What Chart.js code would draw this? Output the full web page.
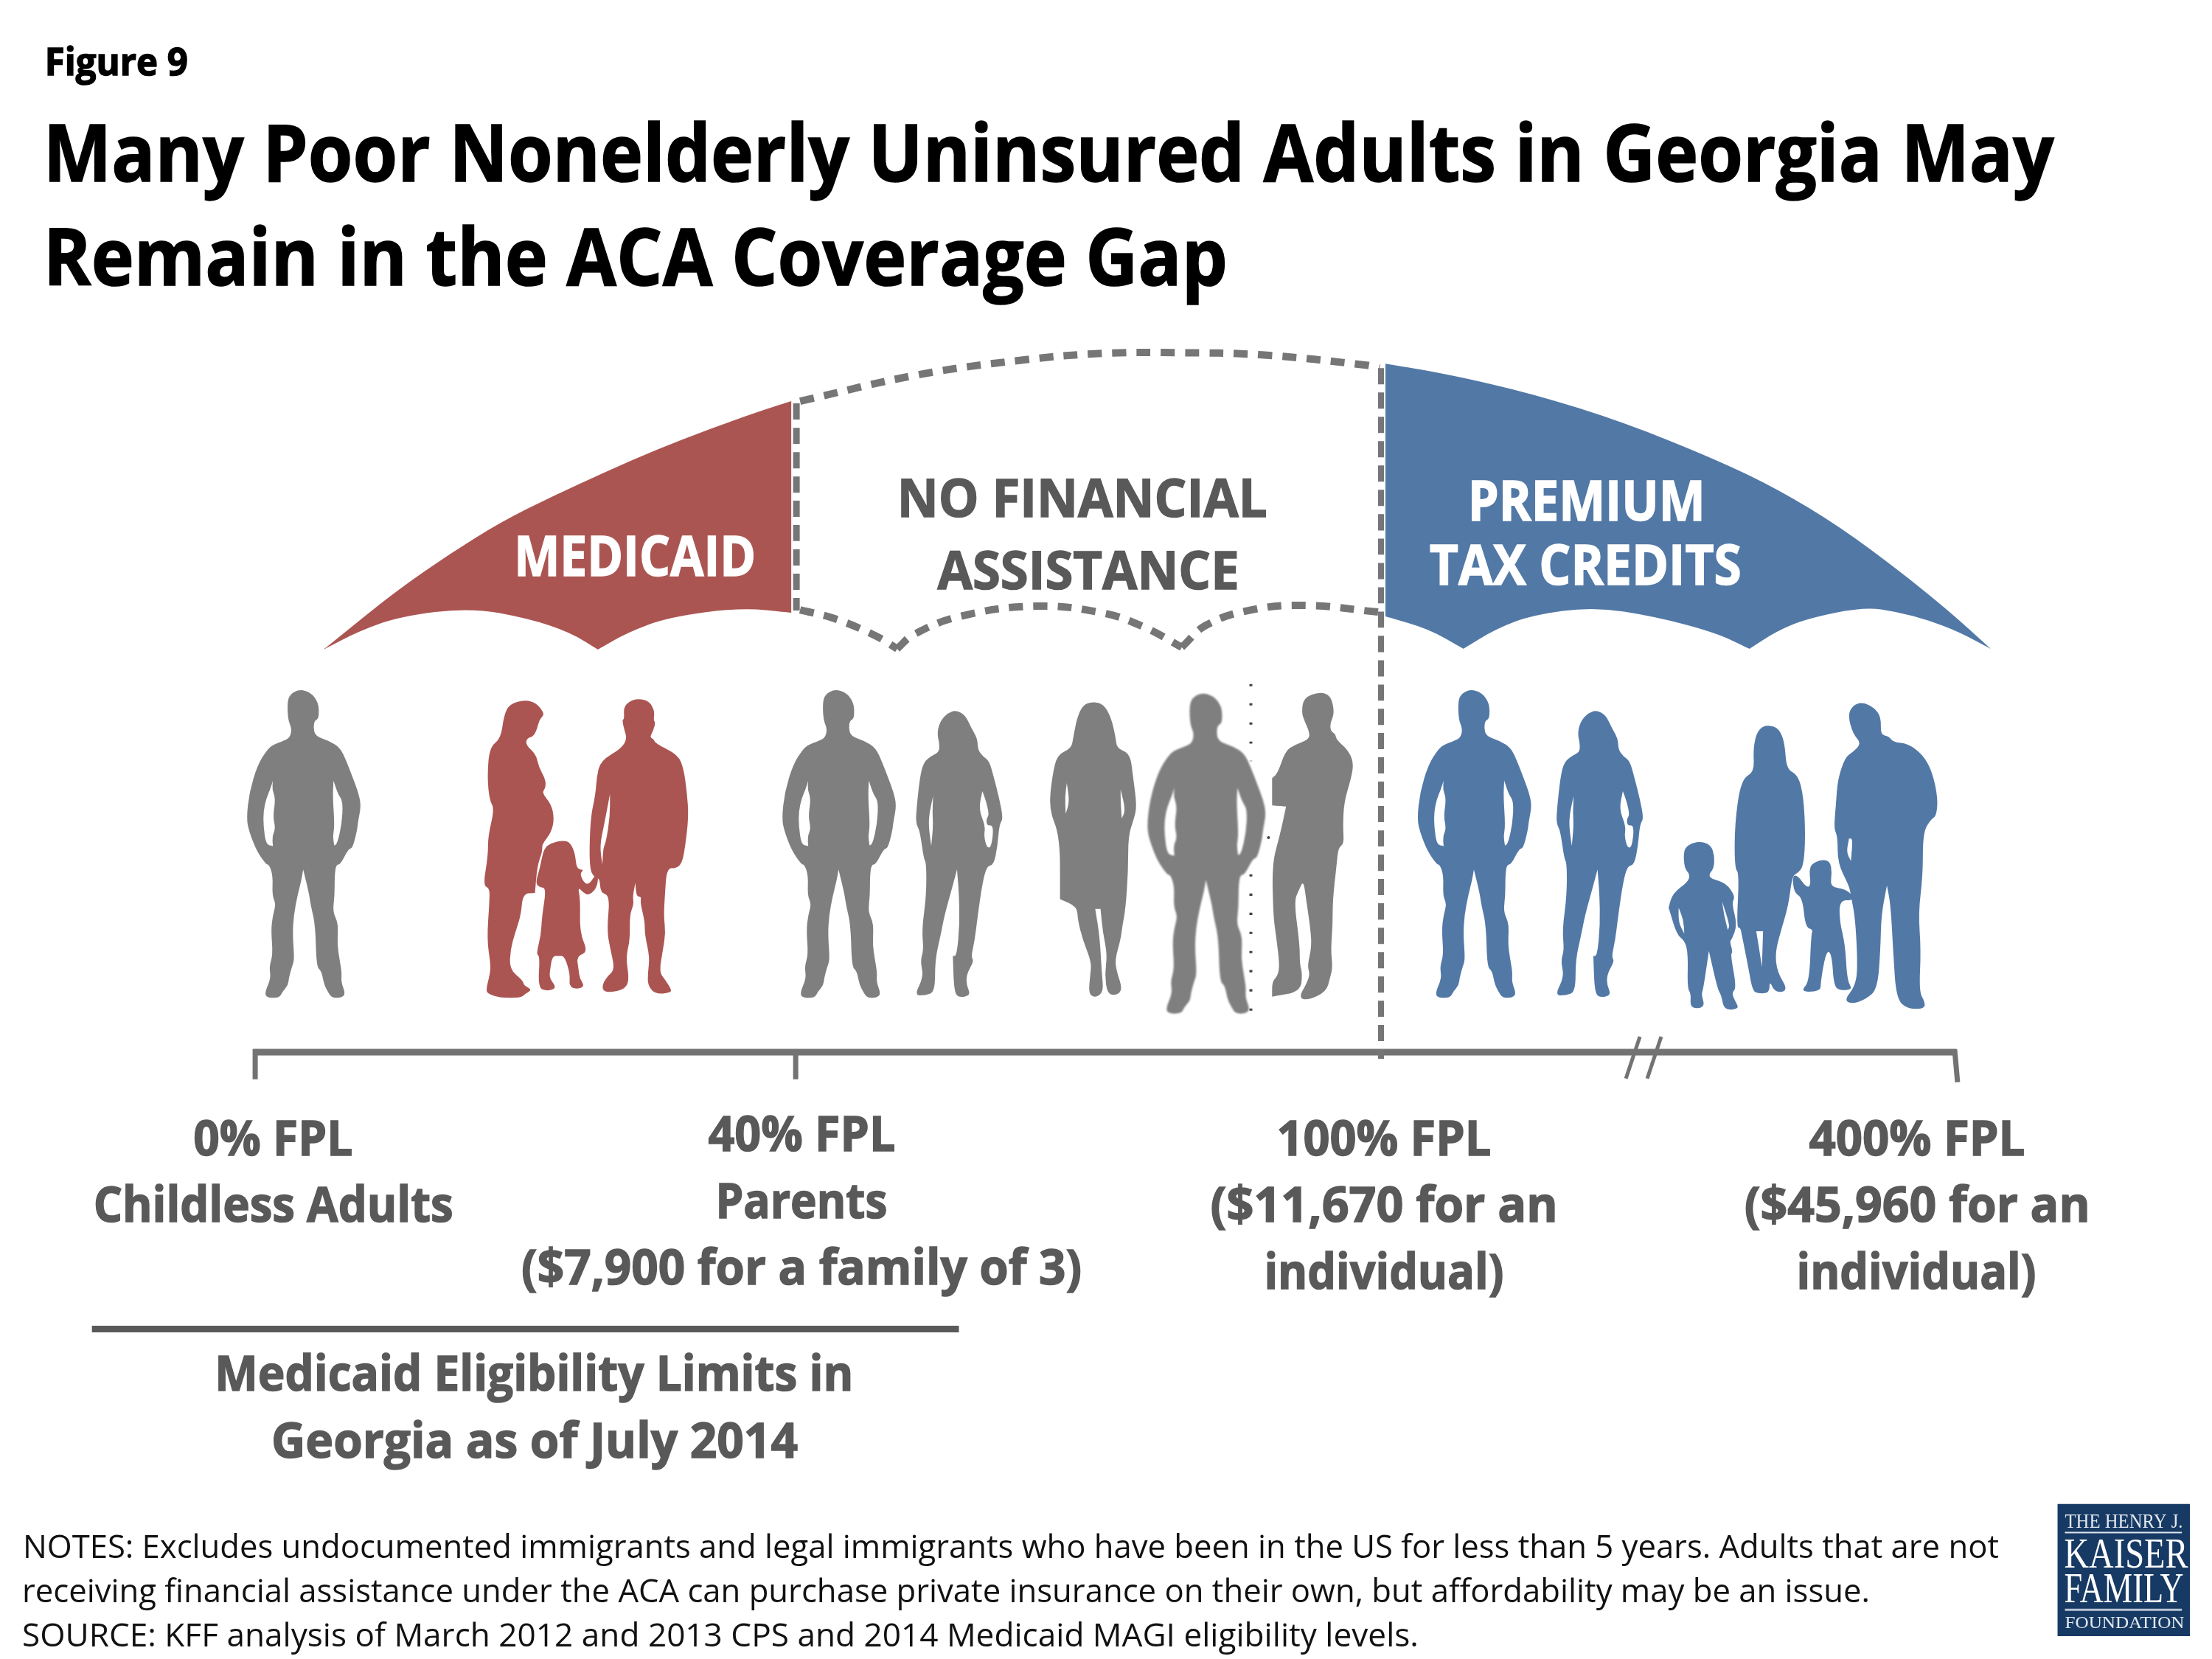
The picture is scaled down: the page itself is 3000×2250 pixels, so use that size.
<!DOCTYPE html>
<html>
<head>
<meta charset="utf-8">
<title>Figure 9</title>
<script src="https://cdn.jsdelivr.net/npm/chart.js@4"></script>
<style>
  html, body { margin: 0; background: #fff; }
  canvas { display: block; }
</style>
</head>
<body>
<canvas id="chart" width="3000" height="2250"></canvas>
<script>
"use strict";

// ---- text ----
const figureLabel = "Figure 9";
const titleLines = ["Many Poor Nonelderly Uninsured Adults in Georgia May", "Remain in the ACA Coverage Gap"];
const medicaidLabel = "MEDICAID";
const noAssistLines = ["NO FINANCIAL", "ASSISTANCE"];
const premiumLines = ["PREMIUM", "TAX CREDITS"];
const tickLabels0 = ["0% FPL", "Childless Adults"];
const tickLabels40 = ["40% FPL", "Parents", "($7,900 for a family of 3)"];
const tickLabels100 = ["100% FPL", "($11,670 for an", "individual)"];
const tickLabels400 = ["400% FPL", "($45,960 for an", "individual)"];
const limitLines = ["Medicaid Eligibility Limits in", "Georgia as of July 2014"];
const noteLines = [
  "NOTES: Excludes undocumented immigrants and legal immigrants who have been in the US for less than 5 years. Adults that are not",
  "receiving financial assistance under the ACA can purchase private insurance on their own, but affordability may be an issue.",
  "SOURCE: KFF analysis of March 2012 and 2013 CPS and 2014 Medicaid MAGI eligibility levels."
];
const logoLines = ["THE HENRY J.", "KAISER", "FAMILY", "FOUNDATION"];

// ---- umbrella; a repeated point keeps a sharp corner ----
const medicaidShape = [[436,880],[436,880],[488,838],[537,799],[607,750],[678,706],[748,671],[818,639],[888,608],[958,581],[1028,556],[1072,542],[1072,542],[1072,830],[1072,830],
  [1003,823],[905,836],[849,857],[809,880],[809,880],[772,857],[716,838],[635,823],[540,835],[484,855]];
const premiumShape = [[1880,491],[1880,491],[1964,505],[2081,532],[2205,571],[2331,622],[2414,662],[2498,713],[2580,774],[2647,828],[2703,879],[2703,879],
  [2660,856],[2618,840],[2577,829],[2531,822],[2453,838],[2412,855],[2375,879],[2375,879],[2329,857],[2246,835],[2163,822],[2080,833],[2030,852],[1986,879],[1986,879],[1939,852],[1880,835],[1880,835]];
const topArcX = [1084, 1245, 1387, 1494, 1594, 1712, 1854, 1872];
const topArcY = [542, 506, 486, 477, 476, 479, 493, 497];
const scallop1X = [1084, 1131, 1188, 1216];
const scallop1Y = [826, 838, 862, 879];
const scallop2X = [1216, 1238, 1301, 1404, 1494, 1553, 1603];
const scallop2Y = [879, 860, 835, 821, 830, 850, 877];
const scallop3X = [1603, 1636, 1698, 1773, 1870];
const scallop3Y = [877, 847, 826, 820, 829];

// ---- axis ----
const axisX = [340, 2656];
const fplTickX = [343, 1078, 2656];
const breakMarksX = [2207, 2226, 2236, 2255];
const dashed40X = 1079;
const dashed100X = 1874;
const dottedX = 1697;
const strayDotsX = [1592, 1721];

const manBody = [[210,45],[240,58],[258,95],[262,130],[260,165],[250,172],[247,200],[252,235],[290,255],[318,282],[335,340],[350,400],[365,460],[373,515],[365,580],[362,620],[350,690],[340,690],[318,755],[307,755],[303,800],[303,880],[298,945],[310,985],[312,1020],[310,1080],[316,1140],[322,1195],[320,1230],[332,1280],[320,1295],[295,1295],[285,1270],[275,1240],[268,1185],[255,1170],[252,1000],[240,920],[235,870],[220,775],[220,775],[215,820],[205,880],[195,960],[192,1040],[197,1140],[190,1170],[182,1215],[180,1245],[165,1270],[158,1295],[125,1295],[118,1275],[135,1215],[130,1170],[140,1120],[135,1020],[140,960],[148,915],[138,880],[140,800],[130,755],[122,755],[97,700],[78,625],[70,570],[78,460],[100,350],[125,290],[140,270],[170,253],[185,240],[190,205],[180,170],[178,100],[185,65]];
const manHoleL = [[140,415],[140,415],[138,450],[147,490],[140,560],[147,610],[138,640],[140,680],[140,680],[122,675],[115,600],[115,540],[122,490],[133,450]];
const manHoleR = [[300,415],[300,415],[312,470],[325,500],[322,590],[310,670],[302,678],[302,678],[298,640],[303,600],[298,480]];

const jeansWoman = [[390,130],[415,150],[430,200],[447,245],[448,290],[462,318],[478,335],[490,400],[505,490],[515,570],[505,590],[500,680],[490,757],[472,760],[460,830],[447,970],[440,1060],[430,1130],[438,1145],[418,1200],[418,1245],[430,1285],[395,1295],[385,1260],[382,1125],[382,1125],[392,1125],[400,1000],[398,870],[393,775],[393,775],[380,850],[360,960],[350,1040],[335,1140],[335,1270],[310,1285],[280,1285],[305,1210],[296,1145],[305,1100],[300,1020],[312,880],[312,750],[305,730],[295,620],[285,590],[285,545],[295,400],[305,340],[325,315],[345,300],[347,270],[340,220],[350,170],[370,140]];
const jeansHoleL = [[330,478],[330,478],[320,545],[318,600],[325,680],[325,680],[330,600],[328,540]];
const jeansHoleR = [[460,458],[460,458],[450,530],[468,600],[464,640],[472,688],[484,685],[490,595],[472,598],[470,570],[478,555],[470,500]];

const skirtWoman = [[750,95],[780,105],[800,160],[812,240],[815,285],[850,305],[858,400],[868,520],[860,570],[845,640],[845,780],[838,935],[830,1000],[825,1060],[810,1140],[815,1190],[830,1260],[815,1285],[790,1280],[783,1200],[790,1120],[778,1030],[772,935],[772,935],[758,935],[758,935],[770,1050],[775,1190],[780,1270],[760,1295],[740,1280],[745,1200],[748,1150],[725,1060],[712,980],[710,925],[665,895],[665,895],[665,640],[635,530],[645,390],[658,310],[695,285],[700,240],[710,160],[725,110]];
const skirtHoleL = [[683,425],[683,425],[690,500],[680,550],[680,550],[678,480]];
const skirtHoleR = [[825,450],[825,450],[838,535],[828,568],[828,568],[825,500]];

const armsCrossedMan = [[1350,55],[1380,70],[1390,140],[1378,185],[1380,215],[1392,225],[1395,250],[1425,290],[1440,340],[1435,400],[1415,500],[1412,600],[1415,672],[1400,685],[1395,760],[1385,900],[1385,1000],[1380,1100],[1385,1170],[1378,1215],[1368,1270],[1320,1305],[1295,1295],[1315,1240],[1325,1200],[1318,1165],[1330,1085],[1325,1000],[1315,900],[1308,818],[1295,860],[1283,905],[1298,1080],[1298,1160],[1305,1195],[1300,1270],[1225,1290],[1225,1290],[1225,1230],[1240,1205],[1245,1160],[1235,1040],[1228,960],[1225,750],[1245,640],[1262,520],[1262,520],[1225,515],[1225,515],[1225,405],[1225,405],[1240,385],[1260,295],[1285,270],[1320,250],[1325,225],[1310,170],[1303,140],[1308,80]];

const pregnantWoman = [[805,88],[835,100],[853,135],[855,150],[843,170],[838,205],[828,235],[810,245],[808,270],[835,310],[842,360],[860,410],[860,445],[850,465],[875,510],[883,570],[875,625],[850,675],[852,700],[838,760],[832,870],[832,870],[800,873],[795,960],[780,1030],[767,1100],[765,1180],[800,1225],[803,1245],[825,1262],[805,1280],[795,1295],[740,1295],[710,1280],[702,1265],[713,1200],[715,1160],[705,1060],[712,900],[712,850],[695,840],[708,720],[708,640],[725,530],[712,495],[706,400],[712,280],[742,245],[750,150],[765,105]];
const girl = [[905,657],[925,665],[938,710],[942,775],[962,775],[950,792],[962,830],[975,835],[990,800],[1000,800],[995,850],[975,880],[960,870],[945,845],[952,900],[950,1030],[972,1110],[942,1125],[947,1180],[950,1215],[963,1248],[945,1260],[922,1250],[925,1200],[910,1125],[895,1125],[878,1125],[872,1180],[870,1215],[890,1255],[865,1268],[840,1255],[845,1125],[835,1120],[848,1040],[850,970],[862,850],[845,848],[833,830],[845,770],[855,690],[875,668]];
const shortsMan = [[1105,82],[1135,95],[1148,135],[1145,170],[1150,180],[1145,210],[1135,240],[1145,245],[1150,265],[1210,310],[1225,370],[1233,460],[1238,560],[1228,690],[1220,750],[1205,770],[1180,770],[1175,880],[1172,965],[1177,1030],[1170,1100],[1160,1190],[1175,1220],[1192,1260],[1190,1275],[1150,1280],[1130,1245],[1130,1195],[1135,1130],[1122,1040],[1122,985],[1110,910],[1113,885],[1100,885],[1097,830],[1097,830],[1090,885],[1093,915],[1082,960],[1083,1060],[1072,1130],[1080,1210],[1075,1250],[1050,1270],[1012,1272],[1010,1240],[1025,1205],[1043,1180],[1030,1090],[1022,1020],[1030,880],[1005,870],[1003,810],[990,810],[975,770],[978,570],[992,470],[995,400],[1005,335],[1060,285],[1075,245],[1068,210],[1062,170],[1068,165],[1066,120],[1080,95]];
const shortsHole = [[1030,470],[1030,470],[1015,590],[1003,680],[1010,755],[1010,755],[1012,690],[1020,660],[1030,560]];

const boy = [[800,660],[830,675],[840,720],[838,770],[825,795],[830,812],[870,830],[895,885],[885,910],[900,1000],[885,1060],[880,1065],[888,1110],[882,1120],[898,1255],[885,1275],[895,1310],[905,1340],[865,1345],[858,1285],[848,1260],[825,1105],[825,1105],[810,1260],[805,1280],[815,1335],[775,1338],[778,1280],[768,1255],[770,1120],[762,1065],[740,1040],[720,935],[718,930],[730,870],[770,825],[775,795],[760,770],[758,700],[770,675]];
const boyHoleL = [[745,930],[745,930],[745,990],[760,1035],[760,1035],[758,980]];
const boyHoleR = [[860,905],[860,905],[880,1000],[875,1020],[875,1020],[865,960]];
const backWoman = [[985,190],[1010,205],[1025,260],[1030,370],[1060,390],[1075,480],[1080,640],[1075,760],[1060,790],[1045,800],[1035,920],[1015,1025],[1000,1110],[1005,1190],[1035,1265],[1000,1275],[985,1225],[985,1275],[955,1278],[940,1265],[930,1180],[912,1040],[908,1010],[898,1010],[905,790],[893,770],[893,590],[910,410],[945,380],[942,290],[950,225],[965,197]];
const backWomanGap = [[950,1025],[950,1025],[968,1025],[968,1025],[965,1170],[965,1170],[958,1100]];
const toddler = [[1120,735],[1145,740],[1150,790],[1145,845],[1185,855],[1205,880],[1205,900],[1170,900],[1170,985],[1185,1080],[1190,1225],[1205,1262],[1170,1265],[1155,1245],[1150,1130],[1140,1100],[1130,1140],[1120,1235],[1120,1265],[1085,1272],[1070,1262],[1090,1230],[1095,1040],[1100,1018],[1080,1010],[1072,890],[1050,870],[1045,800],[1060,800],[1082,848],[1095,840],[1088,760]];
const backMan = [[1230,97],[1262,120],[1280,160],[1278,230],[1300,235],[1312,260],[1350,265],[1390,310],[1415,380],[1430,490],[1425,560],[1412,570],[1390,625],[1390,800],[1378,950],[1385,1100],[1380,1270],[1395,1310],[1395,1340],[1350,1340],[1320,1300],[1312,1120],[1305,920],[1295,840],[1295,840],[1280,960],[1278,1100],[1270,1260],[1240,1300],[1205,1320],[1182,1305],[1210,1250],[1218,1180],[1212,980],[1200,880],[1195,840],[1165,750],[1165,640],[1155,610],[1160,520],[1165,410],[1185,320],[1205,300],[1228,265],[1205,225],[1192,150],[1205,110]];
const backManHole = [[1195,650],[1195,650],[1188,705],[1200,740],[1200,740],[1205,650]];

const GRAY = "#7f7f7f", RED = "#ab5552", BLUE = "#5278a6", DASH = "#767676", AXIS = "#737373", TEXT = "#595959", NAVY = "#173a64";

// crop-to-page factors of the outlines above
const SX = 0.515, SY = 0.336;
const ROW_Y = 919;

const toPoints = (xs, ys) => xs.map((x, i) => ({ x, y: ys[i] }));

function shape(points, fillColor, blur) {
  return { data: points.map(([x, y]) => ({ x, y })), showLine: false, pointRadius: 0, shapeFill: fillColor, shapeBlur: blur || 0 };
}

function person(outline, holes, color, x0, opts = {}) {
  const k = opts.k || 1, y0 = opts.y0 === undefined ? ROW_Y : opts.y0;
  const place = (pts) => pts.map(([x, y]) => [x0 + x * SX * k, y0 + y * SY * k]);
  return [shape(place(outline), color, opts.blur), ...holes.map((h) => shape(place(h), "#fff", opts.blur))];
}

function line(points, color, width, dash) {
  return {
    data: points, showLine: true, pointRadius: 0, borderColor: color, borderWidth: width,
    borderDash: dash || [], tension: 0.4, borderCapStyle: "butt", fill: false
  };
}

const corners = (pts) => pts.flatMap((p) => [p, p]);

const ARC_DASH = [19, 14];

const datasets = [
  shape(medicaidShape, RED),
  shape(premiumShape, BLUE),

  line(toPoints(topArcX, topArcY), DASH, 10, ARC_DASH),
  line(toPoints(scallop1X, scallop1Y), DASH, 10, ARC_DASH),
  line(toPoints(scallop2X, scallop2Y), DASH, 10, ARC_DASH),
  line(toPoints(scallop3X, scallop3Y), DASH, 10, ARC_DASH),
  line([{ x: dashed40X, y: 545 }, { x: dashed40X, y: 827 }], DASH, 9, [22, 11]),

  ...person(manBody, [manHoleL, manHoleR], GRAY, 295),
  ...person(pregnantWoman, [], RED, 295),
  ...person(shortsMan, [shortsHole], RED, 295),
  ...person(girl, [], RED, 295),

  ...person(manBody, [manHoleL, manHoleR], GRAY, 1023),
  ...person(jeansWoman, [jeansHoleL, jeansHoleR], GRAY, 1095),
  ...person(skirtWoman, [skirtHoleL, skirtHoleR], GRAY, 1095),
  line([{ x: dottedX, y: 927 }, { x: dottedX, y: 1032 }], "#444", 4, [3, 23]),
  line([{ x: dottedX, y: 1186 }, { x: dottedX, y: 1376 }], "#444", 4, [3, 23]),
  { data: strayDotsX.map((x) => ({ x, y: 1136 })), showLine: false, pointRadius: 2, pointBackgroundColor: "#444", pointBorderWidth: 0 },
  ...person(manBody, [manHoleL, manHoleR], GRAY, 1518, { k: 1.04, y0: 923, blur: 1 }),
  ...person(armsCrossedMan, [], GRAY, 1095),

  ...person(manBody, [manHoleL, manHoleR], BLUE, 1887),
  ...person(jeansWoman, [jeansHoleL, jeansHoleR], BLUE, 1966),
  ...person(backWoman, [backWomanGap], BLUE, 1895),
  ...person(backMan, [backManHole], BLUE, 1895),
  ...person(boy, [boyHoleL, boyHoleR], BLUE, 1895),
  ...person(toddler, [], BLUE, 1895),

  // FPL axis
  { ...line([{ x: axisX[0], y: 1428 }, { x: axisX[1], y: 1428 }], AXIS, 9), tension: 0 },
  line([{ x: fplTickX[0], y: 1424 }, { x: fplTickX[0], y: 1465 }], AXIS, 7),
  line([{ x: fplTickX[1], y: 1424 }, { x: fplTickX[1], y: 1465 }], AXIS, 7),
  line([{ x: fplTickX[2] - 2, y: 1424 }, { x: fplTickX[2] + 2, y: 1469 }], AXIS, 7),
  line([{ x: dashed100X, y: 497 }, { x: dashed100X, y: 1437 }], DASH, 8, [22, 11]),
  line([{ x: breakMarksX[0], y: 1464 }, { x: breakMarksX[1], y: 1407 }], AXIS, 5),
  line([{ x: breakMarksX[2], y: 1464 }, { x: breakMarksX[3], y: 1407 }], AXIS, 5),

  // rule above the eligibility caption
  line([{ x: 121, y: 1805 }, { x: 1300, y: 1805 }], TEXT, 9),

  // logo
  shape(corners([[2794, 2043], [2974, 2043], [2974, 2223], [2794, 2223]]), NAVY),
  line([{ x: 2804, y: 2082 }, { x: 2963, y: 2082 }], "#dfe6ee", 2),
  line([{ x: 2804, y: 2187 }, { x: 2963, y: 2187 }], "#b7c4d4", 3)
].map((d, i) => ({ ...d, order: -i }));

// label table: text, left, baseline, width on the page, font size, colour, weight, family
const SANS = "'Open Sans', sans-serif", SERIF = "'Liberation Serif', serif";
const labels = [
  [figureLabel, 57, 98, 194, 52, "#000", 700, SANS],
  [titleLines[0], 55, 243, 2727, 108, "#000", 700, SANS],
  [titleLines[1], 55, 384, 1606, 108, "#000", 700, SANS],
  [medicaidLabel, 695, 780, 328, 76, "#fff", 700, SANS],
  [noAssistLines[0], 1216, 699, 502, 72, TEXT, 700, SANS],
  [noAssistLines[1], 1271, 798, 409, 72, TEXT, 700, SANS],
  [premiumLines[0], 1992, 705, 322, 76, "#fff", 700, SANS],
  [premiumLines[1], 1940, 792, 423, 76, "#fff", 700, SANS],
  [tickLabels0[0], 259, 1569, 216, 67, TEXT, 700, SANS],
  [tickLabels0[1], 123, 1659, 488, 67, TEXT, 700, SANS],
  [tickLabels40[0], 959, 1563, 254, 67, TEXT, 700, SANS],
  [tickLabels40[1], 969, 1654, 233, 67, TEXT, 700, SANS],
  [tickLabels40[2], 705, 1744, 760, 67, TEXT, 700, SANS],
  [tickLabels100[0], 1732, 1569, 291, 67, TEXT, 700, SANS],
  [tickLabels100[1], 1642, 1659, 471, 67, TEXT, 700, SANS],
  [tickLabels100[2], 1715, 1750, 325, 67, TEXT, 700, SANS],
  [tickLabels400[0], 2456, 1569, 293, 67, TEXT, 700, SANS],
  [tickLabels400[1], 2368, 1659, 469, 67, TEXT, 700, SANS],
  [tickLabels400[2], 2439, 1750, 325, 67, TEXT, 700, SANS],
  [limitLines[0], 288, 1889, 866, 67, TEXT, 700, SANS],
  [limitLines[1], 365, 1980, 714, 67, TEXT, 700, SANS],
  [noteLines[0], 27, 2117, 2680, 44, "#111", 400, SANS],
  [noteLines[1], 26, 2177, 2506, 44, "#111", 400, SANS],
  [noteLines[2], 26, 2237, 1894, 44, "#111", 400, SANS],
  [logoLines[0], 2804, 2075, 160, 27, "#e3e9f0", 400, SERIF],
  [logoLines[1], 2803, 2130, 168, 58, "#fff", 400, SERIF],
  [logoLines[2], 2803, 2177, 162, 58, "#fff", 400, SERIF],
  [logoLines[3], 2804, 2212, 162, 24, "#e3e9f0", 400, SERIF]
];

// fills each outline from the points the line controller already scaled
const shapeFill = {
  id: "shapeFill",
  afterDatasetDraw(chart, args) {
    const ds = chart.data.datasets[args.index];
    if (!ds.shapeFill) return;
    const pts = args.meta.data;
    const ctx = chart.ctx;
    ctx.save();
    ctx.fillStyle = ds.shapeFill;
    if (ds.shapeBlur) ctx.filter = `blur(${ds.shapeBlur}px)`;
    ctx.beginPath();
    const n = pts.length;
    ctx.moveTo((pts[n - 1].x + pts[0].x) / 2, (pts[n - 1].y + pts[0].y) / 2);
    pts.forEach((p, i) => {
      const q = pts[(i + 1) % n];
      ctx.quadraticCurveTo(p.x, p.y, (p.x + q.x) / 2, (p.y + q.y) / 2);
    });
    ctx.closePath();
    ctx.fill();
    ctx.restore();
  }
};

const textLabels = {
  id: "textLabels",
  afterDatasetsDraw(chart) {
    const { ctx, scales } = chart;
    labels.forEach(([text, x, y, width, size, color, weight, family]) => {
      ctx.save();
      ctx.font = `${weight} ${size}px ${family}`;
      ctx.fillStyle = color;
      ctx.strokeStyle = color;
      ctx.lineWidth = 1.5;
      ctx.textBaseline = "alphabetic";
      const w = ctx.measureText(text).width;
      ctx.translate(scales.x.getPixelForValue(x), scales.y.getPixelForValue(y));
      ctx.scale(width / w, 1);
      ctx.fillText(text, 0, 0);
      // squeezed bold text loses stem weight, so thicken it a little
      if (weight === 700) ctx.strokeText(text, 0, 0);
      ctx.restore();
    });
  }
};

new Chart(document.getElementById("chart"), {
  type: "scatter",
  data: { datasets },
  plugins: [shapeFill, textLabels],
  options: {
    responsive: false,
    devicePixelRatio: 1,
    animation: false,
    layout: { padding: 0 },
    plugins: { legend: { display: false }, tooltip: { enabled: false }, title: { display: false } },
    scales: {
      x: { type: "linear", min: 0, max: 3000, display: false },
      y: { type: "linear", min: 0, max: 2250, reverse: true, display: false }
    }
  }
});
</script>
</body>
</html>
